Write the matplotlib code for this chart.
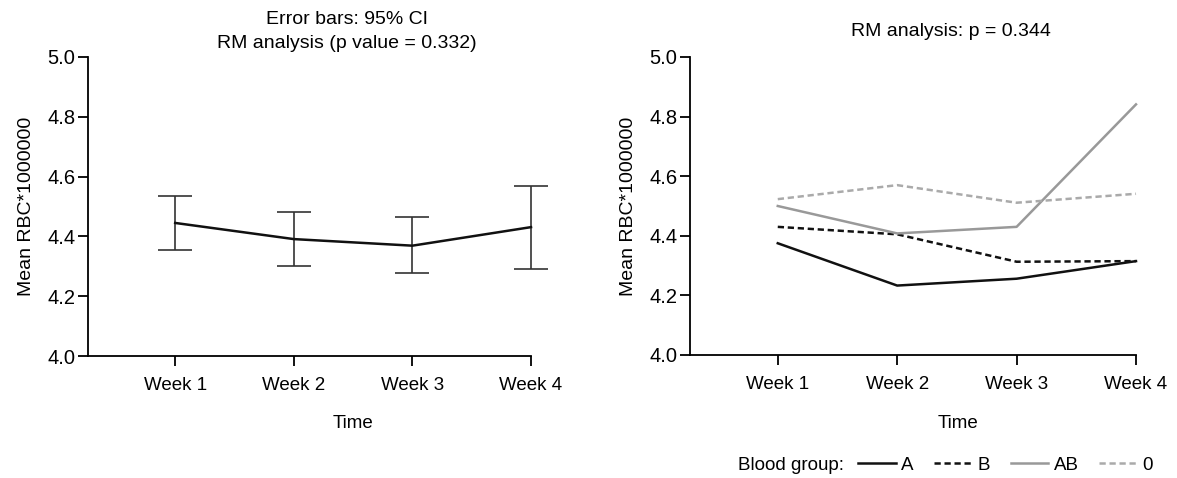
import matplotlib
matplotlib.use("Agg")
import matplotlib.pyplot as plt

plt.rcParams['font.family'] = ['Liberation Sans', 'DejaVu Sans']

weeks = ['Week 1', 'Week 2', 'Week 3', 'Week 4']
x = [1, 2, 3, 4]

# left panel: overall mean and 95% CI
mean_all = [4.445, 4.391, 4.369, 4.431]
ci_low = [4.353, 4.302, 4.277, 4.292]
ci_high = [4.536, 4.483, 4.465, 4.570]

# right panel: by blood group
grp_A = [4.375, 4.233, 4.256, 4.315]
grp_B = [4.430, 4.405, 4.313, 4.315]
grp_AB = [4.500, 4.408, 4.430, 4.841]
grp_0 = [4.523, 4.570, 4.511, 4.541]

W, H = 1177, 478
fig = plt.figure(figsize=(W / 100, H / 100), dpi=100)

def px_axes(x0, x1, ytop, ybot):
    return fig.add_axes([x0 / W, 1 - ybot / H, (x1 - x0) / W, (ybot - ytop) / H])

def style(ax):
    ax.set_xlim(0.265, 4)
    ax.set_ylim(4.0, 5.0)
    ax.set_yticks([4.0, 4.2, 4.4, 4.6, 4.8, 5.0])
    ax.set_yticklabels(['4.0', '4.2', '4.4', '4.6', '4.8', '5.0'])
    ax.set_xticks(x)
    ax.set_xticklabels(weeks, fontsize=13.5)
    ax.tick_params(axis='y', labelsize=14.5, length=7, width=1.3, pad=2)
    ax.tick_params(axis='x', length=7, width=1.3, pad=8)
    for s in ['top', 'right']:
        ax.spines[s].set_visible(False)
    for s in ['left', 'bottom']:
        ax.spines[s].set_linewidth(1.3)
    ax.set_ylabel('Mean RBC*1000000', fontsize=14, labelpad=9)

ax1 = px_axes(88, 531, 57, 356)
style(ax1)
yerr = [[m - l for m, l in zip(mean_all, ci_low)],
        [h - m for m, h in zip(mean_all, ci_high)]]
eb = ax1.errorbar(x, mean_all, yerr=yerr, color='#111111', lw=1.8,
                  ecolor='#333333', elinewidth=1.2, capsize=12, capthick=1.2)
for artist in eb.lines[0:1] + tuple(eb.lines[1]) + tuple(eb.lines[2]):
    artist.set_clip_on(False)
fig.text(347 / W, 1 - 20 / H, 'Error bars: 95% CI', ha='center', va='center', fontsize=14)
fig.text(347 / W, 1 - 43 / H, 'RM analysis (p value = 0.332)', ha='center', va='center', fontsize=14)
fig.text(353 / W, 1 - 424 / H, 'Time', ha='center', va='center', fontsize=13.5)

ax2 = px_axes(690, 1136, 57, 355)
style(ax2)
ax2.plot(x, grp_A, color='#111111', lw=1.8, label='A', clip_on=False)
ax2.plot(x, grp_B, color='#111111', lw=1.8, ls=(0, (2.5, 1.5)), label='B', clip_on=False)
ax2.plot(x, grp_AB, color='#999999', lw=1.8, label='AB', clip_on=False)
ax2.plot(x, grp_0, color='#aaaaaa', lw=1.8, ls=(0, (2.5, 1.5)), label='0', clip_on=False)
fig.text(951 / W, 1 - 32 / H, 'RM analysis: p = 0.344', ha='center', va='center', fontsize=14)
fig.text(958 / W, 1 - 424 / H, 'Time', ha='center', va='center', fontsize=13.5)

fig.text(738 / W, 1 - 465 / H, 'Blood group:', ha='left', va='center', fontsize=13.5)
handles, labels = ax2.get_legend_handles_labels()
fig.legend(handles, labels, ncol=4, frameon=False, fontsize=13.5,
           loc='center left', bbox_to_anchor=(858 / W, 1 - 465 / H),
           handlelength=2.0, handletextpad=0.3, columnspacing=1.1,
           borderaxespad=0, borderpad=0)

fig.savefig('out.png', dpi=100)
